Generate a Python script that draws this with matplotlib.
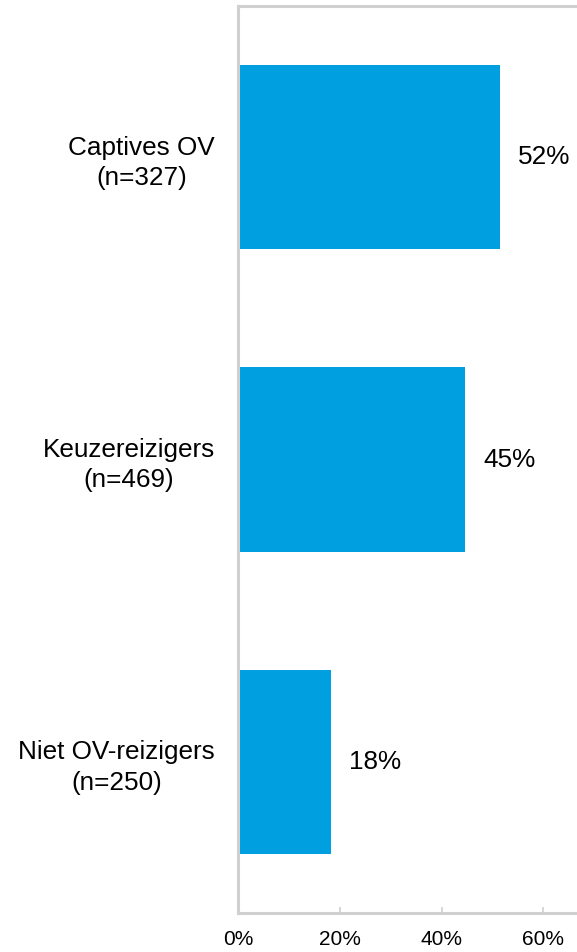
import matplotlib
matplotlib.use("Agg")
import matplotlib.pyplot as plt

categories = ["Captives OV\n(n=327)", "Keuzereizigers\n(n=469)", "Niet OV-reizigers\n(n=250)"]
values = [51.4, 44.6, 18.2]
value_labels = ["52%", "45%", "18%"]
xticks = [0, 20, 40, 60]
xtick_labels = ["0%", "20%", "40%", "60%"]

plt.rcParams['font.family'] = ['Liberation Sans', 'DejaVu Sans']

fig = plt.figure(figsize=(5.77, 9.52), dpi=100)
left = 238.4 / 577
top = 1 - 6 / 952
bottom = 1 - 913 / 952
right_ext = 1.2
ax = fig.add_axes([left, bottom, right_ext - left, top - bottom])

ypos = list(range(len(categories)))
ax.barh(ypos, values, height=0.61, color="#009FDF", zorder=2)
ax.set_ylim(2.5, -0.5)

# 20% corresponds to ~101.6 px
axes_width_px = (right_ext - left) * 577
ax.set_xlim(0, axes_width_px / 5.08)

for y, v, lab in zip(ypos, values, value_labels):
    ax.annotate(lab, xy=(v, y), xytext=(18, 0), textcoords="offset pixels",
                ha="left", va="center", fontsize=18.8, color="#000000")

ax.set_yticks(ypos)
ax.set_yticklabels(categories, fontsize=18.8, multialignment="center", linespacing=1.33)
ax.tick_params(axis="y", length=0, pad=17)
ax.set_xticks(xticks)
ax.set_xticklabels(xtick_labels, fontsize=15)
ax.tick_params(axis="x", direction="in", length=4.5, width=1.2, color="#D0D0D0", pad=12)

for s in ["left", "top", "bottom", "right"]:
    ax.spines[s].set_color("#D0D0D0")
    ax.spines[s].set_linewidth(2.2)

fig.savefig("out.png", dpi=100)
